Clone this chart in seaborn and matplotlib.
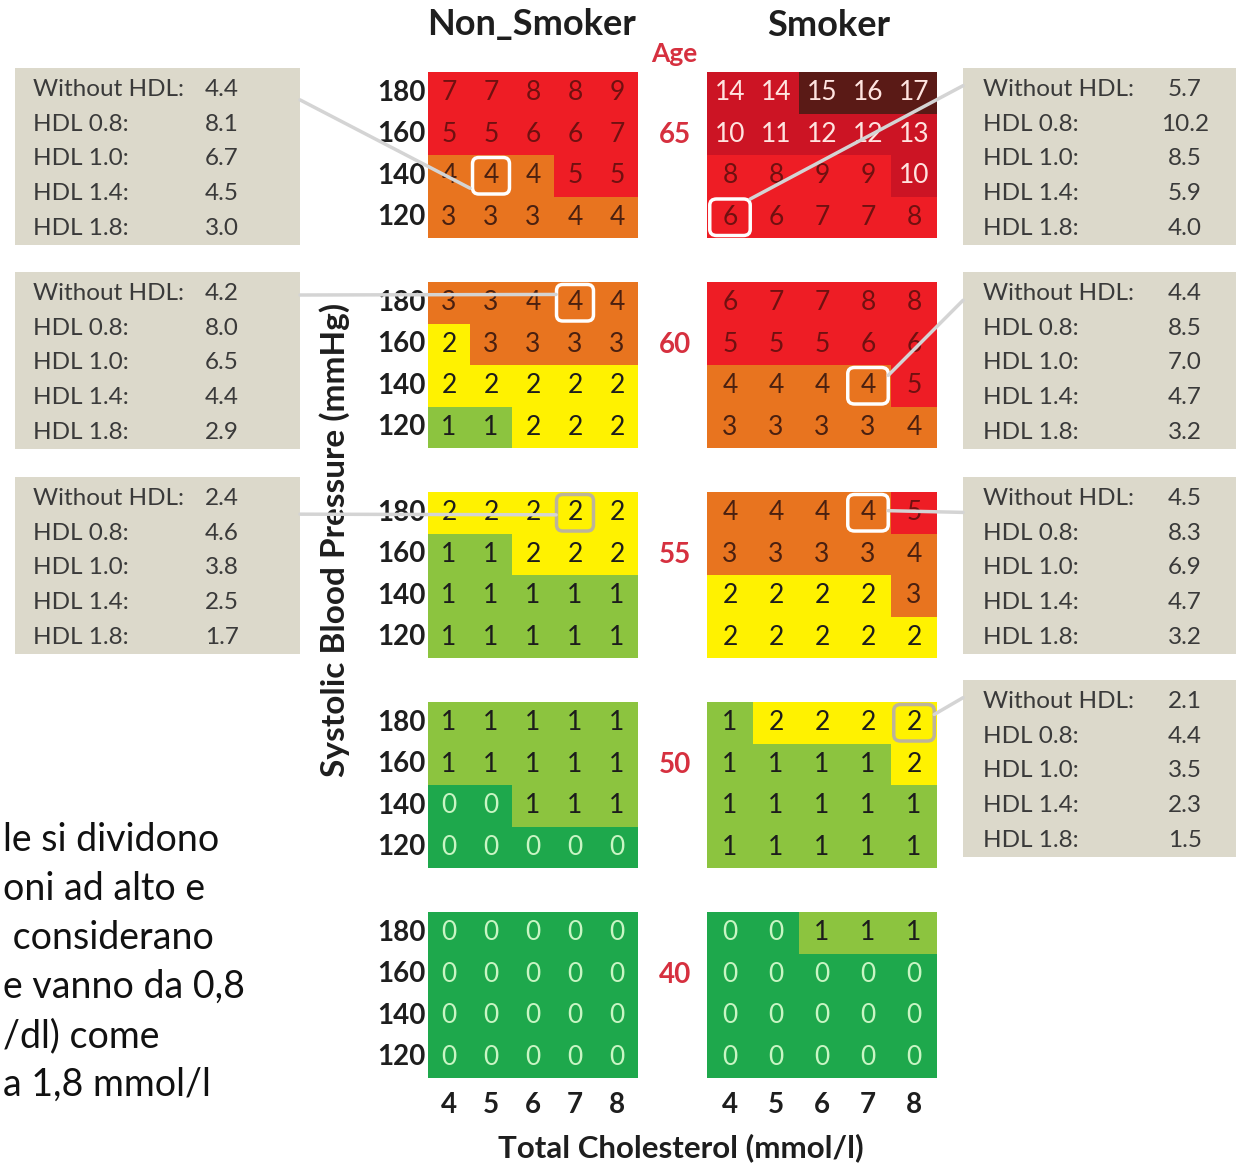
import matplotlib
matplotlib.use('Agg')
import numpy as np
import pandas as pd
import matplotlib.pyplot as plt
from matplotlib.colors import ListedColormap, BoundaryNorm
from matplotlib.patches import FancyBboxPatch, ConnectionPatch
import seaborn as sns

# Data: 10-year risk (%) tables, rows = SBP 180..120, columns = cholesterol 4..8
ages = [65, 60, 55, 50, 40]
sbp = [180, 160, 140, 120]
chol = [4, 5, 6, 7, 8]

ns_65 = [[7, 7, 8, 8, 9], [5, 5, 6, 6, 7], [4, 4, 4, 5, 5], [3, 3, 3, 4, 4]]
ns_60 = [[3, 3, 4, 4, 4], [2, 3, 3, 3, 3], [2, 2, 2, 2, 2], [1, 1, 2, 2, 2]]
ns_55 = [[2, 2, 2, 2, 2], [1, 1, 2, 2, 2], [1, 1, 1, 1, 1], [1, 1, 1, 1, 1]]
ns_50 = [[1, 1, 1, 1, 1], [1, 1, 1, 1, 1], [0, 0, 1, 1, 1], [0, 0, 0, 0, 0]]
ns_40 = [[0, 0, 0, 0, 0], [0, 0, 0, 0, 0], [0, 0, 0, 0, 0], [0, 0, 0, 0, 0]]

sm_65 = [[14, 14, 15, 16, 17], [10, 11, 12, 12, 13], [8, 8, 9, 9, 10], [6, 6, 7, 7, 8]]
sm_60 = [[6, 7, 7, 8, 8], [5, 5, 5, 6, 6], [4, 4, 4, 4, 5], [3, 3, 3, 3, 4]]
sm_55 = [[4, 4, 4, 4, 5], [3, 3, 3, 3, 4], [2, 2, 2, 2, 3], [2, 2, 2, 2, 2]]
sm_50 = [[1, 2, 2, 2, 2], [1, 1, 1, 1, 2], [1, 1, 1, 1, 1], [1, 1, 1, 1, 1]]
sm_40 = [[0, 0, 1, 1, 1], [0, 0, 0, 0, 0], [0, 0, 0, 0, 0], [0, 0, 0, 0, 0]]

ns_grids = [ns_65, ns_60, ns_55, ns_50, ns_40]
sm_grids = [sm_65, sm_60, sm_55, sm_50, sm_40]

# HDL info boxes
hdl_labels = ['Without HDL:', 'HDL 0.8:', 'HDL 1.0:', 'HDL 1.4:', 'HDL 1.8:']
left_box_ages = [65, 60, 55]
left_box_values = [[4.4, 8.1, 6.7, 4.5, 3.0],
                   [4.2, 8.0, 6.5, 4.4, 2.9],
                   [2.4, 4.6, 3.8, 2.5, 1.7]]
right_box_ages = [65, 60, 55, 50]
right_box_values = [[5.7, 10.2, 8.5, 5.9, 4.0],
                    [4.4, 8.5, 7.0, 4.7, 3.2],
                    [4.5, 8.3, 6.9, 4.7, 3.2],
                    [2.1, 4.4, 3.5, 2.3, 1.5]]
# highlighted cell (row, col) for each box
left_cells = [(2, 1), (0, 3), (0, 3)]
right_cells = [(3, 0), (2, 3), (0, 3), (0, 4)]

side_text = ["le si dividono", "oni ad alto e", " considerano",
             "e vanno da 0,8", "/dl) come", "a 1,8 mmol/l"]

# Style
sns.set_theme(style='white')
plt.rcParams['font.family'] = ['Lato', 'DejaVu Sans']

W, H = 1236, 1169
fig = plt.figure(figsize=(W / 100, H / 100), dpi=100)
fig.patch.set_facecolor('white')


def px_rect(x0, y0, x1, y1):
    return [x0 / W, 1 - y1 / H, (x1 - x0) / W, (y1 - y0) / H]


risk_colors = ['#1ea84c', '#8cc43f', '#fff200', '#e8741f',
               '#ee1d25', '#cc1424', '#5a1a16']
bounds = [-0.5, 0.5, 1.5, 2.5, 4.5, 9.5, 14.5, 30]
cmap = ListedColormap(risk_colors)
norm = BoundaryNorm(bounds, cmap.N)


def text_color(v):
    if v == 0:
        return '#c9f5c4'
    if v <= 2:
        return '#1c1c1c'
    if v <= 4:
        return '#4a2010'
    if v <= 9:
        return '#701010'
    return '#ffe4e0'


grid_tops = [72, 282, 492, 702, 912]
grid_h = 166
ns_x = (428, 638)
sm_x = (707, 937)

ns_axes, sm_axes = [], []
for i, age in enumerate(ages):
    top = grid_tops[i]
    for grids, (x0, x1), store, is_left in [(ns_grids, ns_x, ns_axes, True),
                                             (sm_grids, sm_x, sm_axes, False)]:
        ax = fig.add_axes(px_rect(x0, top, x1, top + grid_h))
        df = pd.DataFrame(grids[i], index=sbp, columns=chol)
        sns.heatmap(df, ax=ax, cmap=cmap, norm=norm, annot=True, fmt='d',
                    cbar=False, linewidths=0,
                    annot_kws={'fontsize': 19},
                    xticklabels=(i == len(ages) - 1),
                    yticklabels=is_left)
        for t in ax.texts:
            t.set_color(text_color(int(t.get_text())))
        ax.tick_params(length=0, pad=2)
        ax.set_xlabel('')
        ax.set_ylabel('')
        for lab in ax.get_yticklabels():
            lab.set_rotation(0)
            lab.set_fontsize(20)
            lab.set_fontweight('bold')
            lab.set_color('#1e1e1e')
        for lab in ax.get_xticklabels():
            lab.set_fontsize(20)
            lab.set_fontweight('bold')
            lab.set_color('#1e1e1e')
        ax.tick_params(axis='x', pad=10)
        store.append(ax)
    fig.text(675 / W, 1 - (top + grid_h * 0.38) / H, str(age), color='#d6303f',
             fontsize=20, fontweight='bold', ha='center', va='center')

# Titles and axis labels
fig.text(531 / W, 1 - 25 / H, 'Non_Smoker', fontsize=26, fontweight='bold',
         ha='center', va='center', color='#1e1e1e')
fig.text(829 / W, 1 - 25 / H, 'Smoker', fontsize=26, fontweight='bold',
         ha='center', va='center', color='#1e1e1e')
fig.text(674 / W, 1 - 54 / H, 'Age', fontsize=19, fontweight='bold',
         ha='center', va='center', color='#d6303f')
fig.text(335 / W, 1 - 540 / H, 'Systolic Blood Pressure (mmHg)', fontsize=24,
         fontweight='bold', rotation=90, ha='center', va='center', color='#1e1e1e')
fig.text(681 / W, 1 - 1148 / H, 'Total Cholesterol (mmol/l)', fontsize=22.5,
         fontweight='bold', ha='center', va='center', color='#1e1e1e')

# Cropped explanatory text at lower left
for k, line in enumerate(side_text):
    fig.text(3 / W, 1 - (840 + 49 * k) / H, line, fontsize=27,
             ha='left', va='center', color='#111111')


def info_box(rect, values, lab_x, val_x):
    bax = fig.add_axes(px_rect(*rect))
    bax.set_xlim(0, 1)
    bax.set_ylim(0, 1)
    bax.set_facecolor('#dcd9cb')
    for s in bax.spines.values():
        s.set_visible(False)
    bax.set_xticks([])
    bax.set_yticks([])
    for j, (lab, v) in enumerate(zip(hdl_labels, values)):
        y = 0.876 - 0.195 * j
        bax.text(lab_x, y, lab, fontsize=17.5, ha='left', va='center', color='#3a3a3a')
        bax.text(val_x, y, f'{v:.1f}', fontsize=17.5, ha='center', va='center',
                 color='#3a3a3a')
    return bax


box_tops = [68, 272, 477, 680]
box_h = 177
line_color = '#d4d4d4'

left_ends = [(1.0, 2.8), (3.05, 0.3), (3.05, 0.55)]
left_starts = [0.82, 0.87, 0.79]
for k, age in enumerate(left_box_ages):
    bax = info_box((15, box_tops[k], 300, box_tops[k] + box_h),
                   left_box_values[k], 0.063, 0.726)
    hax = ns_axes[ages.index(age)]
    r, c = left_cells[k]
    edge = '#bcb39c' if age == 55 else 'white'
    hax.add_patch(FancyBboxPatch((c + 0.06, r + 0.06), 0.88, 0.88,
                                 boxstyle='round,pad=0,rounding_size=0.15',
                                 fill=False, ec=edge, lw=2.5, zorder=5))
    con = ConnectionPatch(xyA=(1.0, left_starts[k]), coordsA=bax.transAxes,
                          xyB=left_ends[k], coordsB=hax.transData,
                          color=line_color, lw=2.5, zorder=6)
    fig.add_artist(con)

right_ends = [(0.94, 3.06), (3.94, 2.25), (3.94, 0.45), (4.94, 0.3)]
right_starts = [0.9, 0.84, 0.8, 0.9]
for k, age in enumerate(right_box_ages):
    bax = info_box((963, box_tops[k], 1236, box_tops[k] + box_h),
                   right_box_values[k], 0.073, 0.813)
    hax = sm_axes[ages.index(age)]
    r, c = right_cells[k]
    edge = '#bcb39c' if age == 50 else 'white'
    hax.add_patch(FancyBboxPatch((c + 0.06, r + 0.06), 0.88, 0.88,
                                 boxstyle='round,pad=0,rounding_size=0.15',
                                 fill=False, ec=edge, lw=2.5, zorder=5))
    con = ConnectionPatch(xyA=(0.0, right_starts[k]), coordsA=bax.transAxes,
                          xyB=right_ends[k], coordsB=hax.transData,
                          color=line_color, lw=2.5, zorder=6)
    fig.add_artist(con)

plt.savefig('out.png', dpi=100, facecolor='white')
